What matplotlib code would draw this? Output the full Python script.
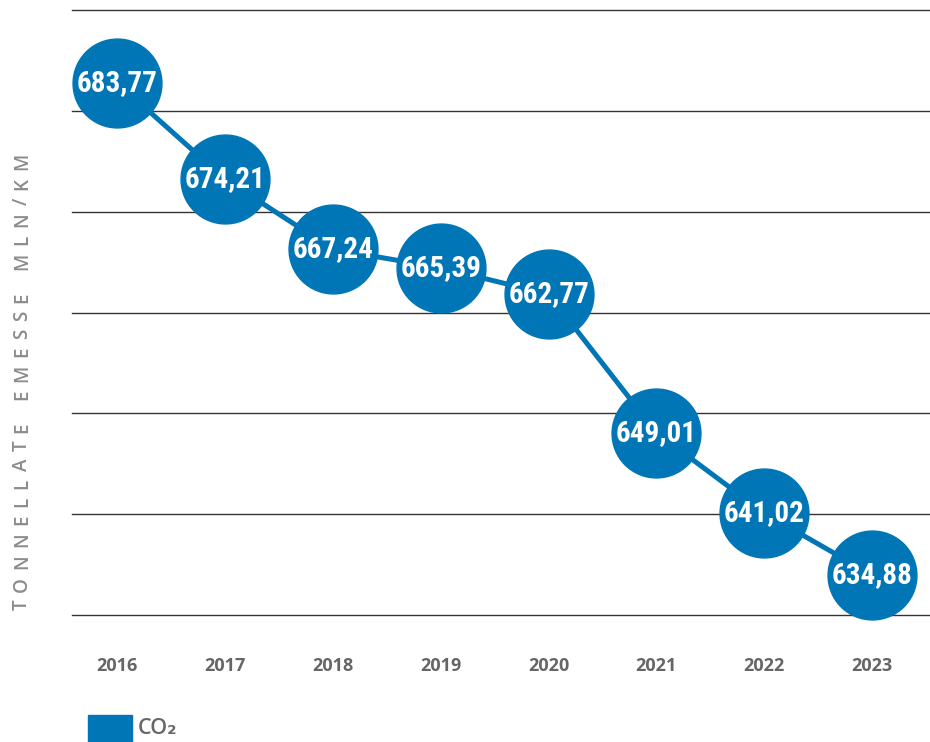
import matplotlib
matplotlib.use("Agg")
import matplotlib.pyplot as plt
import numpy as np
from matplotlib.patches import Rectangle
from matplotlib import font_manager

years = ["2016", "2017", "2018", "2019", "2020", "2021", "2022", "2023"]
values = [683.77, 674.21, 667.24, 665.39, 662.77, 649.01, 641.02, 634.88]
value_labels = ["683,77", "674,21", "667,24", "665,39", "662,77", "649,01", "641,02", "634,88"]
ylabel = "TONNELLATE EMESSE MLN/KM"
legend_label = "CO\u2082"

BLUE = "#0176b6"
names = {f.name for f in font_manager.fontManager.ttflist}
narrow, vsize = "Roboto", 19
for cand in ["Roboto Condensed", "Open Sans Condensed", "Liberation Sans Narrow"]:
    if cand in names:
        narrow, vsize = cand, 21
        break

W, H = 930, 742
fig = plt.figure(figsize=(W/100, H/100), dpi=100)
ax = fig.add_axes([72/W, 1-615/H, 1-72/W, (615-10)/H])

ymin, ymax = 630.9, 691.0
ax.set_ylim(ymin, ymax)
ax.set_xlim(-0.418, 7.536)
for g in np.linspace(ymin, ymax, 7):
    ax.axhline(g, color="#333333", lw=1, zorder=1, clip_on=False)

x = list(range(len(years)))
ax.plot(x, values, color=BLUE, lw=3.6, zorder=3, clip_on=False)
ax.plot(x, values, "o", color=BLUE, ms=64, zorder=4, clip_on=False)
for xi, v, lab in zip(x, values, value_labels):
    ax.text(xi, v, lab, color="white", ha="center", va="center",
            fontsize=vsize, fontweight="bold", family=narrow, zorder=5)

ax.set_yticks([])
ax.tick_params(axis="x", bottom=False, pad=27)
ax.set_xticks(x)
ax.set_xticklabels(years, fontsize=13, fontweight="bold", color="#666666", family="Open Sans")
for s in ax.spines.values():
    s.set_visible(False)

# letter-spaced vertical axis title, placed character by character
renderer = fig.canvas.get_renderer()
lab_kw = dict(rotation=90, ha="center", va="bottom", fontsize=13.5,
              fontweight="semibold", color="#8c8c8c", family="Open Sans")
chars = list(ylabel)
sizes = []
for c in chars:
    if c == " ":
        sizes.append(None)
        continue
    t = fig.text(0, 0, c, **lab_kw)
    sizes.append(t.get_window_extent(renderer).height)
    t.remove()
y_bot, y_top = 610, 153
ink = sum(s for s in sizes if s is not None)
n_letters = sum(1 for s in sizes if s is not None)
n_space = chars.count(" ")
track = ((y_bot - y_top) - ink) / ((n_letters - 1) + 2 * n_space)
pos = y_bot
for c, s in zip(chars, sizes):
    if s is None:
        pos -= 2 * track
        continue
    fig.text(22/W, 1-pos/H, c, **lab_kw)
    pos -= s + track

fig.patches.append(Rectangle((88/W, 0), 44/W, 27/H, transform=fig.transFigure,
                             color=BLUE, figure=fig))
fig.text(138/W, 1-729/H, legend_label, fontsize=15.5, fontweight="semibold",
         color="#666666", family=["Open Sans", "DejaVu Sans"], va="center", ha="left")

fig.savefig("out.png", dpi=100)
